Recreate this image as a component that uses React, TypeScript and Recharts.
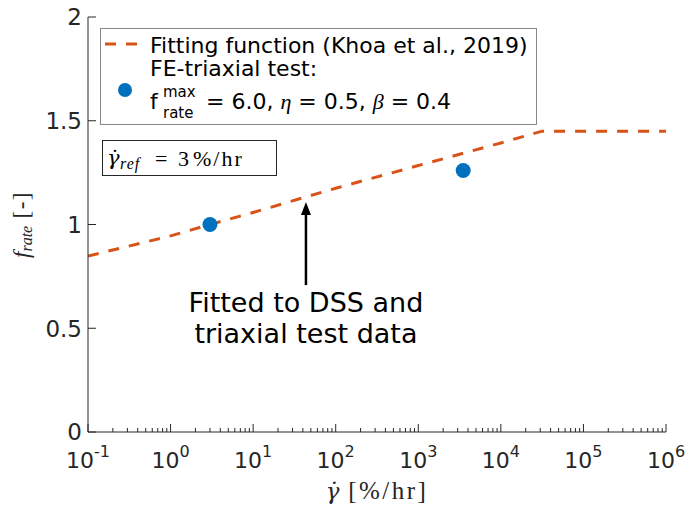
import { ComposedChart, Line, Scatter, XAxis, YAxis, ReferenceLine, Legend, Label } from 'recharts';

// fitted rate function (Khoa et al., 2019)
const fitRate = [0.1, 1, 3, 10, 100, 1000, 10000, 31600, 1000000];
const fitValue = [0.848, 0.945, 1.0, 1.058, 1.175, 1.284, 1.393, 1.45, 1.45];

// FE triaxial test points
const testRate = [3, 3500];
const testValue = [1.0, 1.26];

const decadeTicks = [0.1, 1, 10, 100, 1000, 10000, 100000, 1000000];
const minorSteps = [2, 3, 4, 5, 6, 7, 8, 9];
const yTicks = [0, 0.5, 1, 1.5, 2];

// annotation arrow
const arrowRate = 43.6;
const arrowFrom = 0.708;
const arrowTo = 1.108;

const ink = '#262626';
const orange = '#D95319';
const blue = '#0072BD';
const serif = '"Liberation Serif", "DejaVu Serif", serif';
const dotSerif = '"DejaVu Serif", serif';

const fitData = fitRate.map((rate, i) => ({ rate, f: fitValue[i] }));
const testData = testRate.map((rate, i) => ({ rate, f: testValue[i] }));
const xTicks = [
  ...decadeTicks,
  ...decadeTicks.slice(0, -1).flatMap((d) => minorSteps.map((m) => d * m)),
].sort((a, b) => a - b);

const BottomTick = ({ x, y, payload }: any) => {
  const major = decadeTicks.includes(payload.value);
  return (
    <g>
      <line x1={x} x2={x} y1={y} y2={y - (major ? 8 : 4)} stroke={ink} />
      {major && (
        <text x={x} y={y + 36} textAnchor="middle" fontSize={22} fill={ink}>
          <tspan>10</tspan>
          <tspan dy={-11} fontSize={16}>{Math.round(Math.log10(payload.value))}</tspan>
        </text>
      )}
    </g>
  );
};

const TopTick = ({ x, y, payload }: any) => {
  const major = decadeTicks.includes(payload.value);
  return <line x1={x} x2={x} y1={y} y2={y + (major ? 8 : 4)} stroke={ink} />;
};

const LeftTick = ({ x, y, payload }: any) => (
  <g>
    <line x1={x} x2={x + 8} y1={y} y2={y} stroke={ink} />
    <text x={x - 6} y={y} dy="0.36em" textAnchor="end" fontSize={23} fill={ink}>
      {payload.value}
    </text>
  </g>
);

const RightTick = ({ x, y }: any) => <line x1={x} x2={x - 8} y1={y} y2={y} stroke={ink} />;

const Arrow = (props: any) => {
  const { x1, y1, y2 } = props;
  return (
    <g>
      <line x1={x1} x2={x1} y1={y1} y2={y2 + 10} stroke="#000" strokeWidth={2.5} />
      <polygon points={`${x1},${y2} ${x1 - 5},${y2 + 13} ${x1 + 5},${y2 + 13}`} fill="#000" />
      <text x={x1} y={y1 + 27} textAnchor="middle" fontSize={27} fill="#000">Fitted to DSS and</text>
      <text x={x1} y={y1 + 58} textAnchor="middle" fontSize={27} fill="#000">triaxial test data</text>
    </g>
  );
};

const LegendBox = () => (
  <div
    style={{
      position: 'relative',
      width: 437,
      height: 97,
      boxSizing: 'border-box',
      border: '1px solid #888',
      background: '#fff',
      fontSize: 22,
      color: '#000',
      lineHeight: 1,
    }}
  >
    <svg width={437} height={97} style={{ position: 'absolute', left: -1, top: -1 }}>
      <line x1={5} x2={37} y1={16} y2={16} stroke={orange} strokeWidth={3} strokeDasharray="11 10" />
      <circle cx={25} cy={62} r={7} fill={blue} />
    </svg>
    <span style={{ position: 'absolute', left: 49, top: 6 }}>Fitting function (Khoa et al., 2019)</span>
    <span style={{ position: 'absolute', left: 49, top: 29 }}>FE-triaxial test:</span>
    <span style={{ position: 'absolute', left: 49, top: 62 }}>f</span>
    <span style={{ position: 'absolute', left: 62, top: 56, fontSize: 15 }}>max</span>
    <span style={{ position: 'absolute', left: 62, top: 77, fontSize: 15 }}>rate</span>
    <span style={{ position: 'absolute', left: 105, top: 62, whiteSpace: 'nowrap' }}>
      = 6.0, <span style={{ fontFamily: serif, fontStyle: 'italic' }}>η</span> = 0.5,{' '}
      <span style={{ fontFamily: serif, fontStyle: 'italic' }}>β</span> = 0.4
    </span>
  </div>
);

const YLabel = ({ viewBox }: any) => {
  const cx = 21;
  const cy = viewBox.y + viewBox.height / 2;
  return (
    <text
      x={cx}
      y={cy}
      textAnchor="middle"
      dominantBaseline="central"
      transform={`rotate(-90 ${cx} ${cy})`}
      fontFamily={serif}
      fontSize={23}
      fill={ink}
    >
      <tspan fontStyle="italic">f</tspan>
      <tspan fontStyle="italic" fontSize={16} dy={5}>rate</tspan>
      <tspan dy={-5} letterSpacing={1.5}> [-]</tspan>
    </text>
  );
};

const XLabel = ({ viewBox }: any) => (
  <text x={viewBox.x + viewBox.width / 2} y={499} textAnchor="middle" fontFamily={serif} fontSize={25} fill={ink}>
    <tspan fontFamily={dotSerif} fontStyle="italic" fontSize={23}>γ̇</tspan>
    <tspan letterSpacing={2.5}> [%/hr]</tspan>
  </text>
);

const RefBox = () => (
  <div
    style={{
      position: 'absolute',
      left: 102,
      top: 140,
      width: 175,
      height: 36,
      boxSizing: 'border-box',
      border: `1px solid ${ink}`,
      background: '#fff',
      fontFamily: serif,
      fontSize: 22,
      color: '#000',
      lineHeight: 1,
      whiteSpace: 'nowrap',
    }}
  >
    <span style={{ position: 'absolute', left: 4, top: 7, fontFamily: dotSerif, fontStyle: 'italic', fontSize: 21 }}>γ̇</span>
    <span style={{ position: 'absolute', left: 17, top: 15, fontStyle: 'italic', fontSize: 16, letterSpacing: 1 }}>ref</span>
    <span style={{ position: 'absolute', left: 52, top: 7 }}>=</span>
    <span style={{ position: 'absolute', left: 75, top: 7 }}>3</span>
    <span style={{ position: 'absolute', left: 90, top: 7, letterSpacing: 2 }}>%/hr</span>
  </div>
);

export default function App() {
  return (
    <div
      style={{
        position: 'absolute',
        left: 0,
        top: 0,
        width: 689,
        height: 513,
        background: '#fff',
        fontFamily: '"DejaVu Sans", sans-serif',
      }}
    >
      <ComposedChart width={689} height={513} margin={{ top: 17, right: 23, bottom: 0, left: 0 }}>
        <XAxis
          xAxisId="bottom"
          dataKey="rate"
          type="number"
          scale="log"
          domain={[0.1, 1000000]}
          ticks={xTicks}
          interval={0}
          height={81}
          tickSize={0}
          tickMargin={0}
          tickLine={false}
          tick={<BottomTick />}
          stroke={ink}
          allowDataOverflow
        >
          <Label content={<XLabel />} />
        </XAxis>
        <XAxis
          xAxisId="top"
          orientation="top"
          type="number"
          scale="log"
          domain={[0.1, 1000000]}
          ticks={xTicks}
          interval={0}
          height={0}
          tickSize={0}
          tickMargin={0}
          tickLine={false}
          tick={<TopTick />}
          stroke={ink}
          allowDataOverflow
        />
        <YAxis
          yAxisId="left"
          type="number"
          domain={[0, 2]}
          ticks={yTicks}
          interval={0}
          width={88}
          tickSize={0}
          tickMargin={0}
          tickLine={false}
          tick={<LeftTick />}
          stroke={ink}
        >
          <Label content={<YLabel />} />
        </YAxis>
        <YAxis
          yAxisId="right"
          orientation="right"
          type="number"
          domain={[0, 2]}
          ticks={yTicks}
          interval={0}
          width={0}
          tickSize={0}
          tickMargin={0}
          tickLine={false}
          tick={<RightTick />}
          stroke="#cfcfcf"
          strokeWidth={2}
        />
        <Line
          xAxisId="bottom"
          yAxisId="left"
          data={fitData}
          dataKey="f"
          type="linear"
          stroke={orange}
          strokeWidth={3}
          strokeDasharray="11 10"
          dot={false}
          activeDot={false}
          isAnimationActive={false}
          name="Fitting function (Khoa et al., 2019)"
        />
        <Scatter
          xAxisId="bottom"
          yAxisId="left"
          data={testData}
          dataKey="f"
          fill={blue}
          shape={(p: any) => <circle cx={p.cx} cy={p.cy} r={7.5} fill={blue} />}
          isAnimationActive={false}
          name="FE-triaxial test"
        />
        <ReferenceLine
          xAxisId="bottom"
          yAxisId="left"
          segment={[
            { x: arrowRate, y: arrowFrom },
            { x: arrowRate, y: arrowTo },
          ]}
          shape={<Arrow />}
        />
        <Legend
          layout="horizontal"
          verticalAlign="middle"
          align="center"
          content={() => <LegendBox />}
          wrapperStyle={{ left: 100, top: 28, width: 437, height: 97 }}
        />
      </ComposedChart>
      <RefBox />
    </div>
  );
}
